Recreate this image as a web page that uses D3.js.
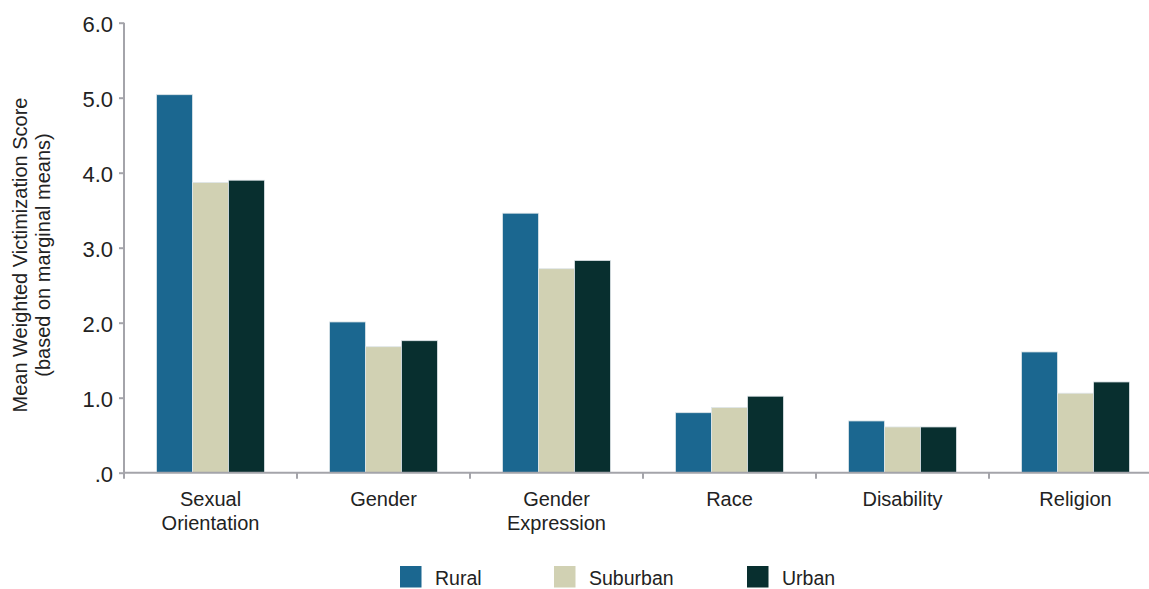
<!DOCTYPE html>
<html><head><meta charset="utf-8">
<script src="https://cdn.jsdelivr.net/npm/d3@7"></script>
<style>body{margin:0;background:#fff;} svg{display:block;font-family:"Liberation Sans",Arial,sans-serif;}</style>
</head><body>
<svg id="c" width="1149" height="589"></svg>
<script>
const categories = [["Sexual","Orientation"],["Gender"],["Gender","Expression"],["Race"],["Disability"],["Religion"]];
const series = ["Rural","Suburban","Urban"];
const colors = ["#1b6790","#d1d1b3","#082f2f"];
const rural = [5.04, 2.01, 3.46, 0.80, 0.69, 1.61];
const suburban = [3.87, 1.68, 2.72, 0.87, 0.61, 1.06];
const urban = [3.90, 1.76, 2.83, 1.02, 0.61, 1.21];
const yTicks = [0,1,2,3,4,5,6];
const yTickLabels = [".0","1.0","2.0","3.0","4.0","5.0","6.0"];
const values = [rural, suburban, urban];

(function(){
const svg = d3.select("#c");
const mLeft = 124, mTop = 22.7, mBottom = 472.7, step = 173;
const x0 = d3.scaleBand().domain(d3.range(categories.length)).range([mLeft, mLeft + step*categories.length]).padding(0);
const x1 = d3.scaleBand().domain(series).range([32.5, step-32.5]).padding(0);
const y = d3.scaleLinear().domain([0,6]).range([mBottom, mTop]);

// bars
const g = svg.append("g");
categories.forEach((c,i)=>{
  series.forEach((s,j)=>{
    g.append("rect")
      .attr("x", x0(i)+x1(s))
      .attr("y", y(values[j][i]))
      .attr("width", x1.bandwidth())
      .attr("height", y(0)-y(values[j][i]))
      .attr("fill", colors[j])
      .attr("stroke", "#dfe6ea").attr("stroke-width", 0.8);
  });
});

// y axis
const axisColor = "#a4a4aa";
const ya = svg.append("g").attr("transform",`translate(${mLeft},0)`)
  .call(d3.axisLeft(y).tickValues(yTicks).tickFormat((d,i)=>yTickLabels[i]).tickSize(5).tickPadding(6));
ya.select(".domain").attr("stroke",axisColor).attr("stroke-width",2).attr("d",`M0,${mTop}V${mBottom}`);
ya.selectAll(".tick line").attr("stroke",axisColor).attr("stroke-width",2);
ya.selectAll(".tick text").attr("font-size",22).attr("fill","#222").attr("dy","0.42em").attr("font-family","Liberation Sans, Arial, sans-serif");

// x axis
const xa = svg.append("g").attr("transform",`translate(0,${mBottom})`);
xa.append("line").attr("x1",mLeft).attr("x2",mLeft+step*categories.length).attr("stroke",axisColor).attr("stroke-width",2);
d3.range(categories.length+1).forEach(i=>{
  const xx = mLeft + i*step;
  xa.append("line").attr("x1",xx).attr("x2",xx).attr("y1",0).attr("y2",6).attr("stroke",axisColor).attr("stroke-width",2);
});
categories.forEach((c,i)=>{
  const t = xa.append("text").attr("x", x0(i)+step/2).attr("y", 33.5).attr("text-anchor","middle")
    .attr("font-size",20).attr("fill","#222");
  c.forEach((line,k)=>t.append("tspan").attr("x", x0(i)+step/2).attr("dy", k===0?0:23.5).text(line));
});

// y title
const yt = svg.append("text").attr("transform","translate(27,255) rotate(-90)").attr("text-anchor","middle")
  .attr("font-size",20).attr("fill","#222");
yt.append("tspan").attr("x",0).attr("dy",0).text("Mean Weighted Victimization Score");
yt.append("tspan").attr("x",0).attr("dy",23).text("(based on marginal means)");

// legend
const legX = [400, 554, 747];
series.forEach((s,j)=>{
  svg.append("rect").attr("x",legX[j]).attr("y",566).attr("width",21.5).attr("height",21.5).attr("fill",colors[j]);
  svg.append("text").attr("x",legX[j]+35).attr("y",584.5).attr("font-size",19.5).attr("fill","#222").text(s);
});
})();
</script>
</body></html>
